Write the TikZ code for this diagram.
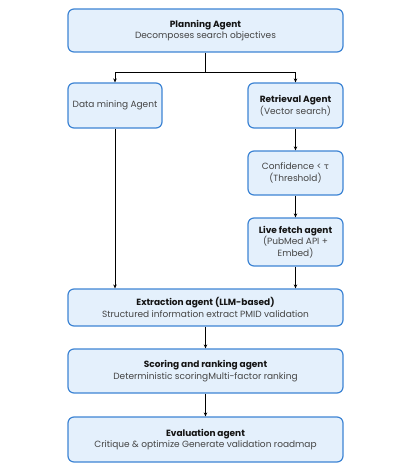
\documentclass[tikz,border=0pt]{standalone}
\usepackage{fontspec}
\setmainfont{Poppins}
\newfontfamily\greekfont{DejaVu Sans}
\usetikzlibrary{arrows.meta}
\definecolor{boxfill}{HTML}{E4F0FC}
\definecolor{boxline}{HTML}{3D84D4}
\definecolor{txt}{HTML}{444444}
\definecolor{ttl}{HTML}{141414}
\newcommand{\ttlx}[1]{\textcolor{ttl}{\textbf{#1}}}
\begin{document}
\begin{tikzpicture}[x=1pt,y=-1pt,
  agentbox/.style={draw=boxline, fill=boxfill, line width=1.2pt, rounded corners=6pt, inner sep=0pt, align=center, text=txt, font=\fontsize{9}{11.5}\selectfont},
  conn/.style={line width=0.9pt, -{Stealth[length=4pt,width=3.5pt]}}]
\useasboundingbox (0,0) rectangle (413,476);
\node[agentbox, minimum width=275pt, minimum height=43pt] (plan) at (205.5,30.5) {\ttlx{Planning Agent}\\Decomposes search objectives};
\node[agentbox, minimum width=94pt, minimum height=45pt] (mine) at (115,105.5) {Data mining Agent};
\node[agentbox, minimum width=95pt, minimum height=45pt] (retr) at (295.5,105.5) {\ttlx{Retrieval Agent}\\(Vector search)};
\node[agentbox, minimum width=95pt, minimum height=44pt] (conf) at (295.5,173) {Confidence < {\greekfont\fontsize{8.5}{11}\selectfont τ}\\(Threshold)};
\node[agentbox, minimum width=95pt, minimum height=48pt] (live) at (295.5,242) {\ttlx{Live fetch agent}\\(PubMed API +\\Embed)};
\node[agentbox, minimum width=275pt, minimum height=37pt] (extr) at (205.5,307.5) {\ttlx{Extraction agent (LLM-based)}\\Structured information extract PMID validation};
\node[agentbox, minimum width=275pt, minimum height=44pt] (score) at (205.5,371) {\ttlx{Scoring and ranking agent}\\Deterministic scoringMulti-factor ranking};
\node[agentbox, minimum width=275pt, minimum height=45pt] (eval) at (205.5,439.5) {\ttlx{Evaluation agent}\\Critique \& optimize Generate validation roadmap};
\coordinate (split) at (205.5,72);
\draw[line width=0.9pt] (plan.south) -- (split);
\draw[conn] (split) -| (mine.north);
\draw[conn] (split) -| (retr.north);
\draw[conn] (retr.south) -- (conf.north);
\draw[conn] (conf.south) -- (live.north);
\draw[conn] (mine.south) -- (mine.south |- extr.north);
\draw[conn] (live.south) -- (live.south |- extr.north);
\draw[conn] (extr.south) -- (score.north);
\draw[conn] (score.south) -- (eval.north);
\end{tikzpicture}
\end{document}
